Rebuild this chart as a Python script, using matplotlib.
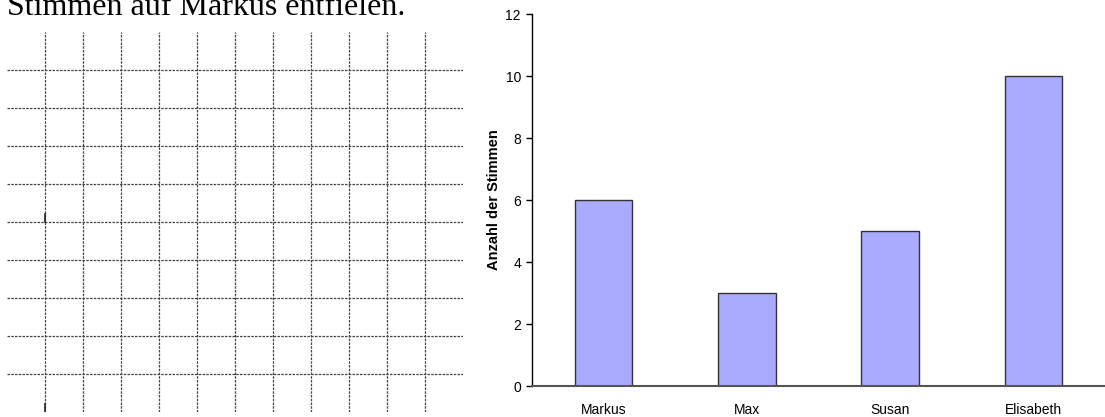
import matplotlib.pyplot as plt

# data
namen = ['Markus', 'Max', 'Susan', 'Elisabeth']
stimmen = [6, 3, 5, 10]
y_ticks = [0, 2, 4, 6, 8, 10, 12]

# grid on the left (empty worksheet grid)
n_vert = 11
n_horiz = 9

fig = plt.figure(figsize=(11.05, 4.17), dpi=100)
W, H = 1105, 417

# heading text, cut at top like in the original
fig.text(7 / W, 1 - 15 / H, 'Stimmen auf Markus entfielen.', family='Liberation Serif',
         fontsize=23, va='baseline', ha='left', color='black')

# dashed grid
gax = fig.add_axes([7 / W, 5 / H, 456 / W, 380 / H])
gax.set_xlim(0, n_vert + 1)
gax.set_ylim(n_horiz + 1, 0)
for i in range(1, n_vert + 1):
    gax.axvline(i, color='#444444', lw=0.9, ls=(0, (2, 1)))
for j in range(1, n_horiz + 1):
    gax.axhline(j, color='#444444', lw=0.9, ls=(0, (2, 1)))
# small solid marks on first vertical line
gax.plot([1, 1], [4.8, 5.0], color='#222222', lw=1.2)
gax.plot([1, 1], [9.8, 9.97], color='#222222', lw=1.2)
gax.set_axis_off()

# bar chart
ax = fig.add_axes([532 / W, 31 / H, (W - 532) / W, 372 / H])
ax.bar(namen, stimmen, width=0.4, color='#aaaaff', edgecolor='#333333', linewidth=1)
ax.set_xlim(-0.5, len(namen) - 0.5)
ax.set_ylim(0, 12)
ax.set_yticks(y_ticks)
for s in ['top', 'right']:
    ax.spines[s].set_visible(False)
ax.spines['left'].set_color('black')
ax.spines['left'].set_linewidth(1)
ax.spines['bottom'].set_color('#555555')
ax.spines['bottom'].set_linewidth(1.5)
ax.tick_params(axis='y', length=4, width=1, pad=4, labelsize=10, direction='out')
ax.tick_params(axis='x', length=0, pad=12, labelsize=10)
for lab in ax.get_xticklabels() + ax.get_yticklabels():
    lab.set_family('Liberation Sans')
ax.set_ylabel('Anzahl der Stimmen', family='Liberation Sans', fontweight='bold',
              fontsize=10.5, labelpad=3)

fig.savefig('out.png', dpi=100)
